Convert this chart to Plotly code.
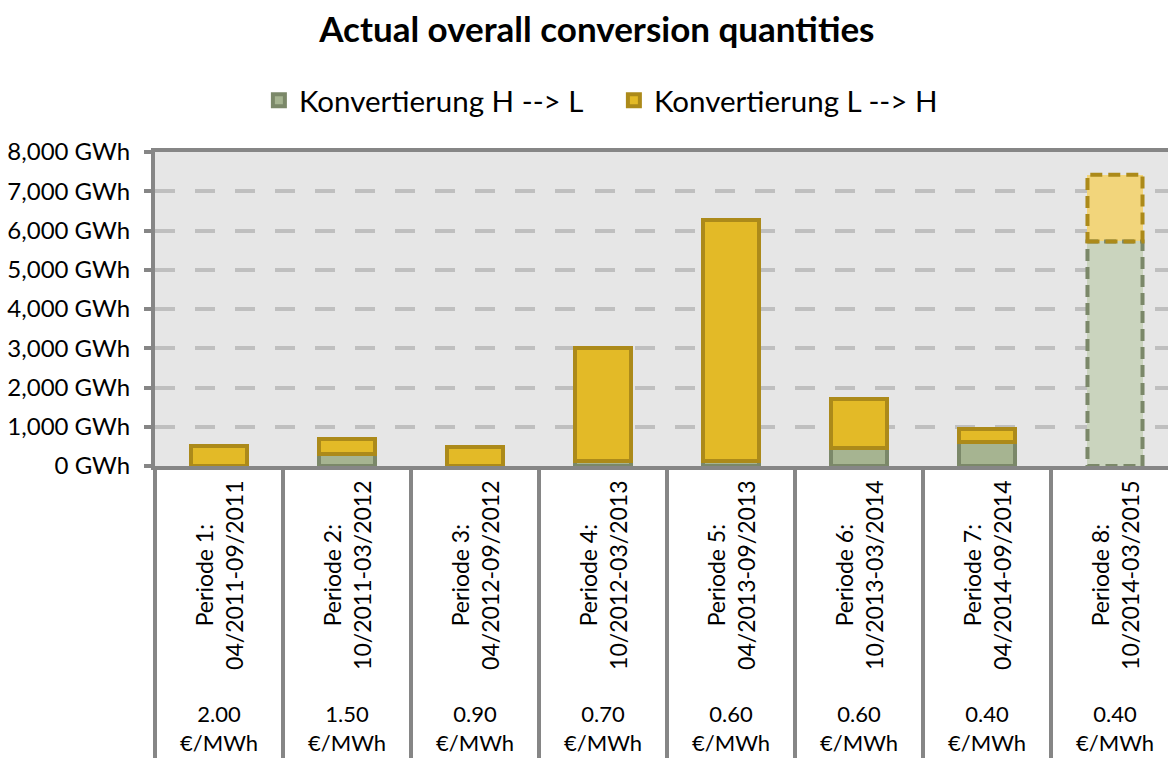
import plotly.graph_objects as go

# ---- data ----
periods = ["Periode 1:<br>04/2011-09/2011", "Periode 2:<br>10/2011-03/2012",
           "Periode 3:<br>04/2012-09/2012", "Periode 4:<br>10/2012-03/2013",
           "Periode 5:<br>04/2013-09/2013", "Periode 6:<br>10/2013-03/2014",
           "Periode 7:<br>04/2014-09/2014", "Periode 8:<br>10/2014-03/2015"]
prices = ["2.00", "1.50", "0.90", "0.70", "0.60", "0.60", "0.40", "0.40"]
h_to_l = [0, 300, 0, 130, 120, 460, 615, 5720]
l_to_h = [500, 380, 480, 2870, 6160, 1240, 320, 1700]
series_names = ["Konvertierung H --> L", "Konvertierung L --> H"]

FONT = "Lato"
GRAY = "#868686"
BAR_W = 0.43
n = len(periods)
cats = list(range(n))
forecast = [i == n - 1 for i in cats]

g_fill = ["#CAD4BE" if f else "#A6B491" for f in forecast]
y_fill = ["#F2D57B" if f else "#E3BA27" for f in forecast]
lw = [0 if f else 4 for f in forecast]
G_LINE = "#7B8869"
Y_LINE = "#AC8A1A"

fig = go.Figure()
fig.add_trace(go.Bar(x=cats, y=h_to_l, name=series_names[0], width=BAR_W,
                     marker=dict(color=g_fill, line=dict(color=G_LINE, width=lw))))
fig.add_trace(go.Bar(x=cats, y=l_to_h, name=series_names[1], width=BAR_W,
                     marker=dict(color=y_fill, line=dict(color=Y_LINE, width=lw))))

# dashed outlines for forecast bar
for i in cats:
    if forecast[i]:
        fig.add_shape(type="rect", xref="x", yref="y", x0=i - BAR_W / 2, x1=i + BAR_W / 2,
                      y0=0, y1=h_to_l[i], line=dict(color=G_LINE, width=4, dash="12px,6px"),
                      fillcolor="rgba(0,0,0,0)", layer="above")
        fig.add_shape(type="rect", xref="x", yref="y", x0=i - BAR_W / 2, x1=i + BAR_W / 2,
                      y0=h_to_l[i], y1=h_to_l[i] + l_to_h[i],
                      line=dict(color=Y_LINE, width=4, dash="12px,6px"),
                      fillcolor="rgba(0,0,0,0)", layer="above")

# category labels
for i in cats:
    fig.add_annotation(x=i, y=-0.35, xref="x", yref="paper", text=periods[i],
                       textangle=-90, showarrow=False, yanchor="middle", xanchor="center",
                       font=dict(family=FONT, size=23, color="black"))
    fig.add_annotation(x=i, y=-0.835, xref="x", yref="paper",
                       text=prices[i] + "<br>€/MWh", showarrow=False,
                       yanchor="middle", xanchor="center",
                       font=dict(family=FONT, size=22, color="black"))

fig.update_layout(
    width=1168, height=758,
    margin=dict(l=155, r=0, t=152, b=289),
    paper_bgcolor="white", plot_bgcolor="#E6E6E6",
    barmode="stack", bargap=0.57,
    font=dict(family=FONT, color="black"),
    title=dict(text="<b>Actual overall conversion quantities</b>", x=0.511, xanchor="center",
               y=1 - 30 / 758, yanchor="middle", font=dict(family=FONT, size=35, color="black")),
    legend=dict(orientation="h", x=0.453, xanchor="center", y=1.164, yanchor="middle",
                font=dict(family=FONT, size=29.5, color="black"), traceorder="normal",
                entrywidth=310, entrywidthmode="pixels",
                bgcolor="rgba(0,0,0,0)"),
    showlegend=True,
)
fig.update_xaxes(type="linear", range=[-0.5, -0.5 + (1168 - 155) / 128],
                 showticklabels=False, showgrid=False, zeroline=False,
                 showline=True, linecolor=GRAY, linewidth=4, mirror=True,
                 tickmode="array", tickvals=[i - 0.5 for i in range(n + 1)],
                 ticks="outside", ticklen=292, tickwidth=4, tickcolor=GRAY)
fig.update_yaxes(range=[0, 8000], dtick=1000, tickformat=",d", ticksuffix=" GWh",
                 showline=True, linecolor=GRAY, linewidth=4,
                 ticks="outside", ticklen=7, tickwidth=4, tickcolor=GRAY,
                 showgrid=True, gridcolor="#BFBFBF", gridwidth=4, griddash="20px,20px",
                 zeroline=False, ticklabelstandoff=9,
                 tickfont=dict(family=FONT, size=24, color="black"))

fig.write_html("out.html")
